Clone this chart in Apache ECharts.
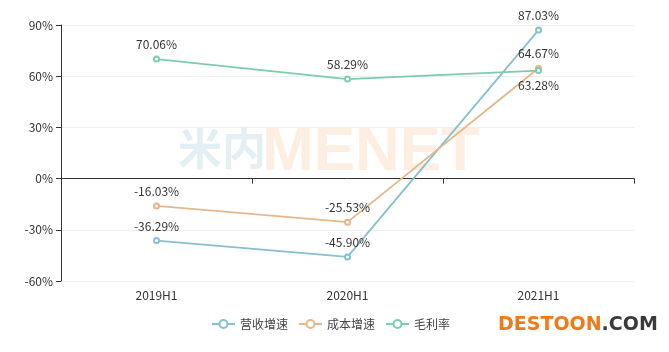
<!DOCTYPE html>
<html>
<head>
<meta charset="utf-8">
<script src="https://cdn.jsdelivr.net/npm/echarts@6/dist/echarts.min.js"></script>
<style>
  html, body { margin: 0; padding: 0; background: #fff; }
  #chart { width: 669px; height: 352px; }
</style>
</head>
<body>
<div id="chart"></div>
<script>
const categories = ["2019H1", "2020H1", "2021H1"];
const seriesNames = ["营收增速", "成本增速", "毛利率"];
const revenueGrowth = [-36.29, -45.90, 87.03];
const costGrowth = [-16.03, -25.53, 64.67];
const grossMargin = [70.06, 58.29, 63.28];

const colors = ["#86bfcf", "#e6b68a", "#7dcdab"];
const font = "'Noto Sans CJK SC', 'Noto Sans', sans-serif";

const chart = echarts.init(document.getElementById("chart"));

function makeSeries(name, data, color, labelPos) {
  return {
    name: name,
    type: "line",
    data: data,
    symbol: "emptyCircle",
    symbolSize: 5,
    lineStyle: { color: color, width: 1.8 },
    itemStyle: { color: color },
    label: {
      show: true,
      position: labelPos,
      color: "#333",
      fontSize: 12,
      fontFamily: font,
      formatter: (p) => p.value.toFixed(2) + "%",
    },
  };
}

const gmSeries = makeSeries(seriesNames[2], grossMargin, colors[2], "top");
// 2021H1 毛利率 标签放下面
gmSeries.data = grossMargin.map((v, i) =>
  i === 2 ? { value: v, label: { position: "bottom" } } : v
);

chart.setOption({
  animation: false,
  textStyle: { fontFamily: font },
  grid: { left: 61, right: 35, top: 25, bottom: 71 },
  legend: {
    bottom: 17,
    left: 206,
    itemWidth: 23,
    itemHeight: 10,
    itemGap: 10,
    textStyle: { color: "#444", fontSize: 12, fontFamily: font },
    data: seriesNames,
  },
  graphic: [
    {
      type: "text",
      left: 178,
      top: 126,
      z: -10,
      style: { text: "米内", fontSize: 44, fontWeight: "bold", fill: "#e4eff4", fontFamily: font },
    },
    {
      type: "text",
      left: 262,
      top: 122,
      z: -10,
      style: { text: "MENET", fontSize: 62, fontWeight: "bold", fill: "#fdeee2", fontFamily: "'Liberation Sans', sans-serif" },
    },
    {
      type: "text",
      left: 498,
      top: 316,
      z: 100,
      style: {
        rich: {
          a: { fontSize: 19, fontWeight: "bold", fill: "#f07a1a", fontFamily: "'DejaVu Sans', sans-serif" },
          b: { fontSize: 19, fontWeight: "bold", fill: "#3a3a3a", fontFamily: "'DejaVu Sans', sans-serif" },
        },
        text: "{a|DESTOON}{b|.COM}",
      },
    },
  ],
  xAxis: {
    type: "category",
    data: categories,
    axisLine: { onZero: true, lineStyle: { color: "#333" } },
    axisTick: { show: true, lineStyle: { color: "#333" } },
    axisLabel: { color: "#333", fontSize: 12, margin: 8, fontFamily: font },
    splitLine: { show: false },
  },
  yAxis: {
    type: "value",
    min: -60,
    max: 90,
    interval: 30,
    axisLine: { show: true, lineStyle: { color: "#333" } },
    axisTick: { show: true, lineStyle: { color: "#333" } },
    axisLabel: { color: "#333", fontSize: 12, formatter: "{value}%", fontFamily: font },
    splitLine: { lineStyle: { color: "#eeeeee" } },
  },
  series: [
    makeSeries(seriesNames[0], revenueGrowth, colors[0], "top"),
    makeSeries(seriesNames[1], costGrowth, colors[1], "top"),
    gmSeries,
  ],
});
</script>
</body>
</html>
